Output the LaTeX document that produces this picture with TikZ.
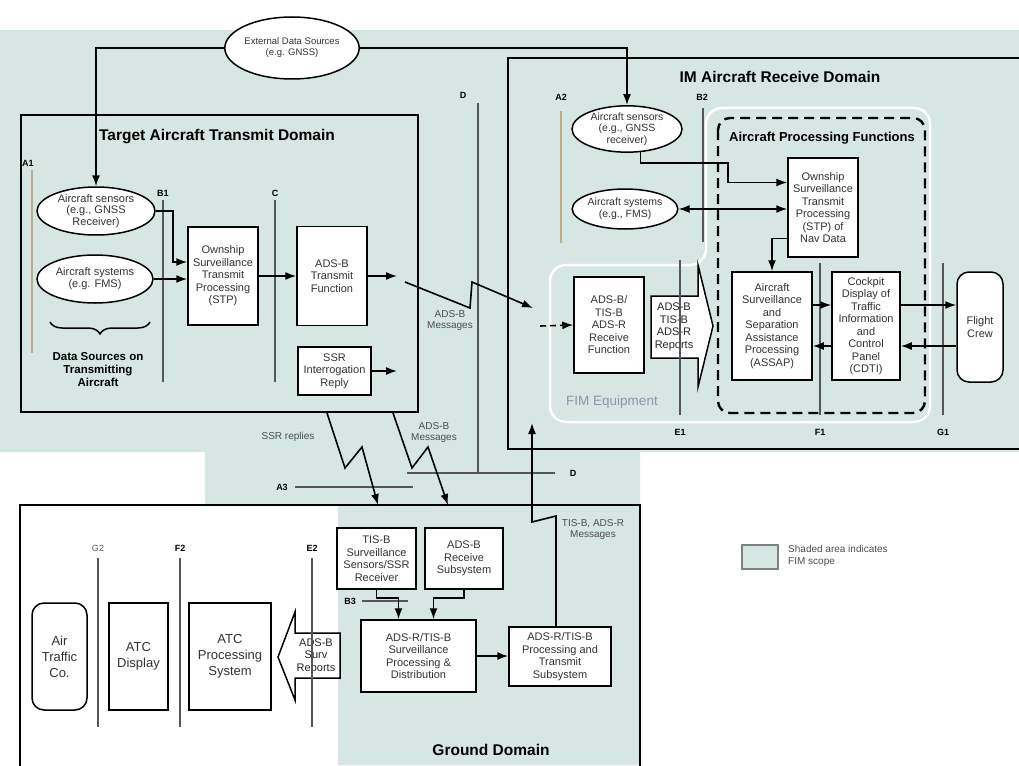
\documentclass[tikz,border=0pt]{standalone}
\usepackage{fontspec}
\setmainfont{Liberation Sans}
\usetikzlibrary{arrows.meta,calc,shapes.geometric,decorations.pathreplacing}
\definecolor{fimshade}{RGB}{214,231,227}
\definecolor{linegray}{RGB}{85,85,92}
\definecolor{tanline}{RGB}{190,172,135}
\definecolor{fimtext}{RGB}{135,150,172}
\newcommand{\boxfont}{\fontsize{11}{12.5}\selectfont}
\newcommand{\ovalfont}{\fontsize{10.5}{11.5}\selectfont}
\newcommand{\gndfont}{\fontsize{13}{16}\selectfont}

\begin{document}
\begin{tikzpicture}[x=1pt,y=-1pt,
  box/.style={draw,fill=white,line width=1.5pt,align=center,inner sep=1pt,text=black!80,font=\boxfont},
  oval/.style={ellipse,draw,fill=white,line width=1.5pt,align=center,inner sep=0pt,text=black!80,font=\ovalfont},
  arr/.style={line width=1.6pt,-{Latex[length=11pt,width=8pt]}},
  darr/.style={line width=1.6pt,{Latex[length=11pt,width=8pt]}-{Latex[length=11pt,width=8pt]}},
  dom/.style={line width=2.2pt},
  bnd/.style={line width=1.3pt,draw=linegray},
  bndlbl/.style={font=\bfseries\fontsize{9}{10}\selectfont,inner sep=1pt},
  domtitle/.style={font=\bfseries\fontsize{15.5}{17}\selectfont},
  msg/.style={align=center,text=black!70,font=\fontsize{10}{11}\selectfont},
  bigarr/.style={draw,fill=white,line width=1.5pt}]
\useasboundingbox (0,0) rectangle (1019,765);

% FIM scope shading
\fill[fimshade] (0,30) -- (1019,30) -- (1019,452) -- (640,452) -- (640,765) -- (338,765)
  -- (338,505) -- (205,505) -- (205,452) -- (0,452) -- cycle;
\draw[white,line width=2.5pt,rounded corners=16] (550,340) -- (550,265) -- (706,265) -- (706,108)
  -- (930,108) -- (930,422) -- (550,422) -- cycle;
\node[font=\fontsize{13.5}{15}\selectfont,text=fimtext] (fimlbl) at (612,402) {FIM Equipment};

% domains
\draw[dom] (21,115) rectangle (418,412);
\draw[dom] (1022,58) -- (508,58) -- (508,449) -- (1022,449);
\draw[dom] (20,770) -- (20,505) -- (640,505) -- (640,770);
\node[domtitle] (ttitle) at (217,137) {Target Aircraft Transmit Domain};
\node[domtitle] (ititle) at (780,77) {IM Aircraft Receive Domain};
\node[domtitle] (gtitle) at (491,750) {Ground Domain};
\draw[line width=2.4pt,dash pattern=on 10pt off 6pt,rounded corners=12] (718,118) rectangle (925,413);
\node[font=\bfseries\fontsize{13}{15}\selectfont] (apftitle) at (822,138) {Aircraft Processing Functions};

% target aircraft
\node[oval,font=\fontsize{9.5}{11}\selectfont,minimum width=124,minimum height=62] (ext) at (292,48) {External Data Sources\\(e.g. GNSS)};
\node[oval,font=\fontsize{11}{11.5}\selectfont,minimum width=118,minimum height=48] (tsens) at (96,211) {Aircraft sensors\\(e.g., GNSS\\Receiver)};
\node[oval,font=\fontsize{11}{12}\selectfont,minimum width=116,minimum height=48] (tsys) at (95,279) {Aircraft systems\\(e.g. FMS)};
\node[box,minimum width=70,minimum height=98] (tstp) at (223,276) {Ownship\\Surveillance\\Transmit\\Processing\\(STP)};
\node[box,minimum width=70,minimum height=99] (txmit) at (332,276) {ADS-B\\Transmit\\Function};
\node[box,minimum width=73,minimum height=48] (ssr) at (334.5,371) {SSR\\Interrogation\\Reply};
\draw[decorate,decoration={brace,amplitude=12pt},line width=1.5pt] (150,322) -- (50,322);
\node[align=center,font=\bfseries\fontsize{11.5}{13}\selectfont] (dsrc) at (98,370) {Data Sources on\\Transmitting\\Aircraft};

% IM aircraft
\node[oval,minimum width=110,minimum height=44] (isens) at (627,129) {Aircraft sensors\\(e.g., GNSS\\receiver)};
\node[oval,minimum width=96,minimum height=40] (isys) at (625,209) {Aircraft systems\\(e.g., FMS)};
\node[box,minimum width=70,minimum height=99] (istp) at (823,207.5) {Ownship\\Surveillance\\Transmit\\Processing\\(STP) of\\Nav Data};
\node[box,minimum width=80,minimum height=108] (assap) at (772,326) {Aircraft\\Surveillance\\and\\Separation\\Assistance\\Processing\\(ASSAP)};
\node[box,minimum width=68,minimum height=108] (cdti) at (866,326) {Cockpit\\Display of\\Traffic\\Information\\and\\Control\\Panel\\(CDTI)};
\node[box,rounded corners=12,minimum width=46,minimum height=110] (crew) at (980,327) {Flight\\Crew};
\node[box,minimum width=70,minimum height=96] (recv) at (609,325) {ADS-B/\\TIS-B\\ADS-R\\Receive\\Function};
\draw[bigarr] (651,296) -- (698,296) -- (698,265) -- (713,326) -- (698,387) -- (698,358) -- (651,358) -- cycle;
\node[align=center,text=black!85,font=\boxfont] (reports) at (674,327) {ADS-B\\TIS-B\\ADS-R\\Reports};

% ground
\node[box,minimum width=79,minimum height=61] (tisb) at (376.5,558.5) {TIS-B\\Surveillance\\Sensors/SSR\\Receiver};
\node[box,minimum width=78,minimum height=61] (adsbrx) at (464,558.5) {ADS-B\\Receive\\Subsystem};
\node[box,minimum width=115,minimum height=72] (dist) at (418.5,656) {ADS-R/TIS-B\\Surveillance\\Processing \&\\Distribution};
\node[box,minimum width=102,minimum height=59] (ptx) at (560,656.5) {ADS-R/TIS-B\\Processing and\\Transmit\\Subsystem};
\node[box,font=\gndfont,rounded corners=12,minimum width=55,minimum height=107] (atc) at (59.5,656.5) {Air\\Traffic\\Co.};
\node[box,font=\gndfont,minimum width=59,minimum height=107] (disp) at (138.5,656.5) {ATC\\Display};
\node[box,font=\gndfont,minimum width=82,minimum height=107] (proc) at (230,656.5) {ATC\\Processing\\System};
\draw[bigarr] (340,633) -- (295,633) -- (295,612) -- (278,657) -- (295,700) -- (295,678) -- (340,678) -- cycle;
\node[align=center,text=black!85,font=\boxfont] (survrep) at (316,656) {ADS-B\\Surv\\Reports};

% reference lines
\foreach \nm/\x/\ya/\yb/\lx/\ly in {B1/163/200/382/163/193, C/275/200/382/275/193, D/478/103/473/463/95,
    B2/703/108/242/702/97, E1/680/260/415/680/432, F1/820/263/415/820/432, G1/943/263/415/943/432,
    F2/180/558/727/180/548, E2/312/558/727/312/548}{
  \draw[bnd] (\x,\ya) -- (\x,\yb);
  \node[bndlbl] (lbl\nm) at (\lx,\ly) {\nm};
}
\draw[bnd,draw=tanline] (32,170) -- (32,353);
\node[bndlbl] (lblA1) at (28,163) {A1};
\draw[bnd,draw=tanline] (561,111) -- (561,243);
\node[bndlbl] (lblA2) at (561,97) {A2};
\draw[bnd] (98,558) -- (98,727);
\node[bndlbl,font=\fontsize{9}{10}\selectfont,text=black!65] (lblG2) at (98,548) {G2};
\draw[bnd] (407,473) -- (555,473);
\node[bndlbl] (lblD2) at (573,473) {D};
\draw[bnd] (295,487) -- (413,487);
\node[bndlbl] (lblA3) at (282,487) {A3};
\draw[bnd] (362,601) -- (408,601);
\node[bndlbl] (lblB3) at (350,601) {B3};

% connectors
\draw[arr] (ext.west) -| (tsens.north);
\draw[arr] (ext.east) -| (isens.north);
\draw[arr] (tsens.east) -- ++(17,0) |- ($(tstp.west)+(0,-14)$);
\draw[arr] (tsys.east) -- (tsys.east -| tstp.west);
\draw[arr] (tstp.east) -- (txmit.west);
\coordinate (txo) at (397,276);
\coordinate (sso) at (397,371);
\draw[arr] (txmit.east) -- (txo);
\draw[arr] (ssr.east) -- (sso);

\coordinate (m1) at (405,282);
\coordinate (m2) at (470,308);
\coordinate (m3) at (472,282);
\coordinate (m4) at (533,308);
\draw[arr] (m1) -- (m2) -- (m3) -- (m4);
\node[msg] (admsg1) at (450,321) {ADS-B\\Messages};

\coordinate (ij) at (728,163);
\draw[arr] (isens.-60) |- (ij) |- ($(istp.west)+(0,-25)$);
\draw[darr] (isys.east) -- (isys.east -| istp.west);
\draw[arr] ($(istp.west)+(0,31)$) -| (assap.north);
\draw[arr] ($(assap.east)+(0,-21)$) -- ($(cdti.west)+(0,-21)$);
\draw[arr] ($(cdti.west)+(0,20)$) -- ($(assap.east)+(0,20)$);
\draw[arr] ($(cdti.east)+(0,-21)$) -- ($(crew.west)+(0,-22)$);
\draw[arr] ($(crew.west)+(0,19)$) -- ($(cdti.east)+(0,20)$);
\coordinate (rin) at (540,326);
\draw[arr,dash pattern=on 6pt off 4pt] (rin) -- (recv.west);

\coordinate (s1) at (327,413);
\coordinate (s2) at (345,468);
\coordinate (s3) at (362,447);
\coordinate (s4) at (378,505);
\draw[arr] (s1) -- (s2) -- (s3) -- (s4);
\node[msg] (ssrmsg) at (288,437) {SSR replies};
\coordinate (g1) at (393,413);
\coordinate (g2) at (412,468);
\coordinate (g3) at (428,447);
\coordinate (g4) at (448,505);
\draw[arr] (g1) -- (g2) -- (g3) -- (g4);
\node[msg] (admsg2) at (434,433) {ADS-B\\Messages};

\draw[arr] (tisb.south) -- ++(0,8) -| ($(dist.north)+(-20,0)$);
\draw[arr] (adsbrx.south) -- ++(0,8) -| ($(dist.north)+(15,0)$);
\draw[arr] (dist.east) -- (dist.east -| ptx.west);
\coordinate (t1) at (556,516);
\coordinate (t2) at (532,522);
\coordinate (timsg) at (532,423);
\draw[arr] ($(ptx.north)+(-4,0)$) -- (t1) -- (t2) -- (timsg);
\node[msg] (tismsg) at (593,530) {TIS-B, ADS-R\\Messages};

% legend
\node[draw=gray,fill=fimshade,line width=1.2pt,minimum width=36,minimum height=24] (legbox) at (760,557) {};
\node[anchor=west,align=left,inner sep=0pt,font=\fontsize{10}{12}\selectfont,text=black!70] (legtxt) at (788,556) {Shaded area indicates\\FIM scope};
\end{tikzpicture}
\end{document}
